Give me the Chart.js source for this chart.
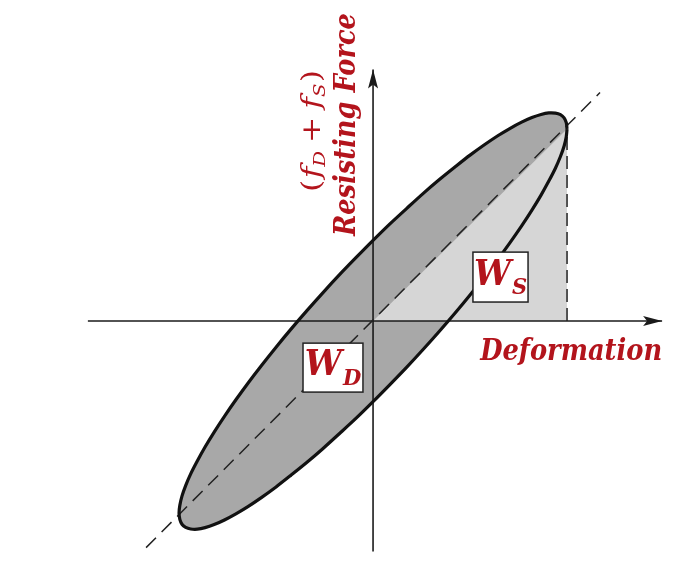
<!DOCTYPE html>
<html>
<head>
<meta charset="utf-8">
<script src="https://cdn.jsdelivr.net/npm/chart.js@4.4.1/dist/chart.umd.min.js"></script>
<style>
  html, body { margin: 0; padding: 0; background: #fff; }
  #wrap { width: 691px; height: 577px; }
</style>
</head>
<body>
<div id="wrap"><canvas id="chart"></canvas></div>
<script>
// hysteresis loop: deformation u/u0 against resisting force (fD + fS)/(k u0)
const loopX = [1.000, 0.996, 0.985, 0.966, 0.940, 0.906, 0.866, 0.819, 0.766, 0.707, 0.643, 0.574,
  0.500, 0.423, 0.342, 0.259, 0.174, 0.087, 0.000, -0.087, -0.174, -0.259, -0.342, -0.423,
  -0.500, -0.574, -0.643, -0.707, -0.766, -0.819, -0.866, -0.906, -0.940, -0.966, -0.985, -0.996,
  -1.000, -0.996, -0.985, -0.966, -0.940, -0.906, -0.866, -0.819, -0.766, -0.707, -0.643, -0.574,
  -0.500, -0.423, -0.342, -0.259, -0.174, -0.087, 0.000, 0.087, 0.174, 0.259, 0.342, 0.423,
  0.500, 0.574, 0.643, 0.707, 0.766, 0.819, 0.866, 0.906, 0.940, 0.966, 0.985, 0.996, 1.000];
const loopY = [1.000, 1.033, 1.058, 1.075, 1.083, 1.084, 1.076, 1.060, 1.036, 1.004, 0.965, 0.918,
  0.864, 0.803, 0.737, 0.665, 0.587, 0.506, 0.420, 0.331, 0.240, 0.147, 0.053, -0.042,
  -0.136, -0.230, -0.321, -0.410, -0.496, -0.578, -0.656, -0.729, -0.796, -0.857, -0.912, -0.960,
  -1.000, -1.033, -1.058, -1.075, -1.083, -1.084, -1.076, -1.060, -1.036, -1.004, -0.965, -0.918,
  -0.864, -0.803, -0.737, -0.665, -0.587, -0.506, -0.420, -0.331, -0.240, -0.147, -0.053, 0.042,
  0.136, 0.230, 0.321, 0.410, 0.496, 0.578, 0.656, 0.729, 0.796, 0.857, 0.912, 0.960, 1.000];

// strain energy triangle W_S
const storedX = [0, 1, 1, 0];
const storedY = [0, 1, 0, 0];

// elastic line fS = k u
const springX = [-1.17, 1.17];
const springY = [-1.18, 1.19];

// drop line at max deformation
const peakX = [1, 1];
const peakY = [0, 1];

// axis extents
const axisX = [-1.47, 1.49];
const axisY = [-1.20, 1.31];

const RED = "#b3141c";
const SERIF = "'DejaVu Serif', 'Liberation Serif', serif";

function pts(xs, ys) {
  return xs.map((x, i) => ({ x: x, y: ys[i] }));
}

// draw a row of text pieces (for subscripts), optionally rotated,
// squeezed/stretched so it spans "len" pixels
function drawRuns(ctx, runs, x, y, angle, align, len, stretch) {
  ctx.save();
  ctx.translate(x, y);
  ctx.rotate(angle);
  let total = 0;
  runs.forEach((r) => {
    ctx.font = r.font;
    total += ctx.measureText(r.t).width + (r.gap || 0);
  });
  const k = len ? len / total : 1;
  ctx.scale(k, k * (stretch || 1));
  let cx = align === "center" ? -total / 2 : 0;
  ctx.textBaseline = "alphabetic";
  ctx.textAlign = "left";
  runs.forEach((r) => {
    ctx.font = r.font;
    ctx.fillStyle = r.color || RED;
    ctx.fillText(r.t, cx, r.dy || 0);
    cx += ctx.measureText(r.t).width + (r.gap || 0);
  });
  ctx.restore();
}

const labels = {
  force: { x: -0.093, y: 1.023, len: 223 },
  sum: { x: -0.276, y: 0.99, len: 122 },
  deform: { x: 0.552, y: -0.203, len: 182 },
  ws: { x0: 0.515, x1: 0.799, y0: 0.099, y1: 0.359, sub: "S" },
  wd: { x0: -0.361, x1: -0.052, y0: -0.370, y1: -0.115, sub: "D" },
};

const sketch = {
  id: "sketch",
  beforeDraw(chart) {
    const { ctx, width, height } = chart;
    ctx.save();
    ctx.fillStyle = "#fff";
    ctx.fillRect(0, 0, width, height);
    ctx.restore();
  },
  afterDatasetsDraw(chart) {
    const ctx = chart.ctx;
    const sx = chart.scales.x, sy = chart.scales.y;

    // arrow heads on the axes
    const arrow = (meta, dir) => {
      const p = meta.data[meta.data.length - 1];
      ctx.save();
      ctx.translate(p.x, p.y);
      ctx.rotate(dir);
      ctx.beginPath();
      ctx.moveTo(0, 0);
      ctx.lineTo(-19, -5);
      ctx.lineTo(-15, 0);
      ctx.lineTo(-19, 5);
      ctx.closePath();
      ctx.fillStyle = "#1a1a1a";
      ctx.fill();
      ctx.restore();
    };
    arrow(chart.getDatasetMeta(3), 0);
    arrow(chart.getDatasetMeta(4), -Math.PI / 2);

    // axis titles
    const bold = "italic bold 24px " + SERIF;
    const f = labels.force;
    drawRuns(ctx, [{ t: "Resisting Force", font: bold }],
      sx.getPixelForValue(f.x), sy.getPixelForValue(f.y), -Math.PI / 2, "center", f.len, 1.15);

    const s = labels.sum;
    const big = "italic 500 24px " + SERIF, up = "24px " + SERIF, small = "italic 15px " + SERIF;
    drawRuns(ctx, [
      { t: "(", font: up, gap: 1 },
      { t: "f", font: big },
      { t: "D", font: small, dy: 5, gap: 6 },
      { t: "+", font: up, gap: 6 },
      { t: "f", font: big },
      { t: "S", font: small, dy: 5, gap: 1 },
      { t: ")", font: up },
    ], sx.getPixelForValue(s.x), sy.getPixelForValue(s.y), -Math.PI / 2, "center", s.len, 0.85);

    const d = labels.deform;
    drawRuns(ctx, [{ t: "Deformation", font: bold }],
      sx.getPixelForValue(d.x), sy.getPixelForValue(d.y), 0, "left", d.len, 1.15);

    // W boxes
    [labels.ws, labels.wd].forEach((b) => {
      const x0 = sx.getPixelForValue(b.x0), x1 = sx.getPixelForValue(b.x1);
      const y0 = sy.getPixelForValue(b.y1), y1 = sy.getPixelForValue(b.y0);
      ctx.save();
      ctx.fillStyle = "#fff";
      ctx.fillRect(x0, y0, x1 - x0, y1 - y0);
      ctx.strokeStyle = "#222";
      ctx.lineWidth = 1.5;
      ctx.strokeRect(x0, y0, x1 - x0, y1 - y0);
      ctx.restore();
      drawRuns(ctx, [
        { t: "W", font: "italic bold 33px " + SERIF, gap: 1 },
        { t: b.sub, font: "italic bold 21px " + SERIF, dy: 9 },
      ], (x0 + x1) / 2, y1 - 17, 0, "center", 0, 1.05);
    });
  },
};

new Chart(document.getElementById("chart"), {
  type: "scatter",
  data: {
    datasets: [
      { label: "loop", data: pts(loopX, loopY), showLine: true, tension: 0.3,
        borderColor: "#111", borderWidth: 3.2, pointRadius: 0, fill: false, order: 1 },
      { label: "spring", data: pts(springX, springY), showLine: true,
        borderColor: "#222", borderWidth: 1.5, borderDash: [14, 8], pointRadius: 0, order: 2 },
      { label: "peak", data: pts(peakX, peakY), showLine: true,
        borderColor: "#222", borderWidth: 1.5, borderDash: [13, 6], pointRadius: 0, order: 2 },
      { label: "x axis", data: [{ x: axisX[0], y: 0 }, { x: axisX[1], y: 0 }], showLine: true,
        borderColor: "#1a1a1a", borderWidth: 1.6, pointRadius: 0, order: 3 },
      { label: "y axis", data: [{ x: 0, y: axisY[0] }, { x: 0, y: axisY[1] }], showLine: true,
        borderColor: "#1a1a1a", borderWidth: 1.6, pointRadius: 0, order: 3 },
      { label: "W_S", data: pts(storedX, storedY), showLine: true, fill: "shape",
        backgroundColor: "#d6d6d6", borderColor: "rgba(0,0,0,0)", pointRadius: 0, order: 4 },
      { label: "W_D", data: pts(loopX, loopY), showLine: true, tension: 0.3, fill: "shape",
        backgroundColor: "#a8a8a8", borderColor: "rgba(0,0,0,0)", pointRadius: 0, order: 5 },
    ],
  },
  options: {
    responsive: true,
    maintainAspectRatio: false,
    animation: false,
    events: [],
    layout: { padding: 0 },
    plugins: { legend: { display: false }, tooltip: { enabled: false } },
    scales: {
      x: { type: "linear", min: -1.923, max: 1.639, display: false },
      y: { type: "linear", min: -1.333, max: 1.672, display: false },
    },
  },
  plugins: [sketch],
});
</script>
</body>
</html>
